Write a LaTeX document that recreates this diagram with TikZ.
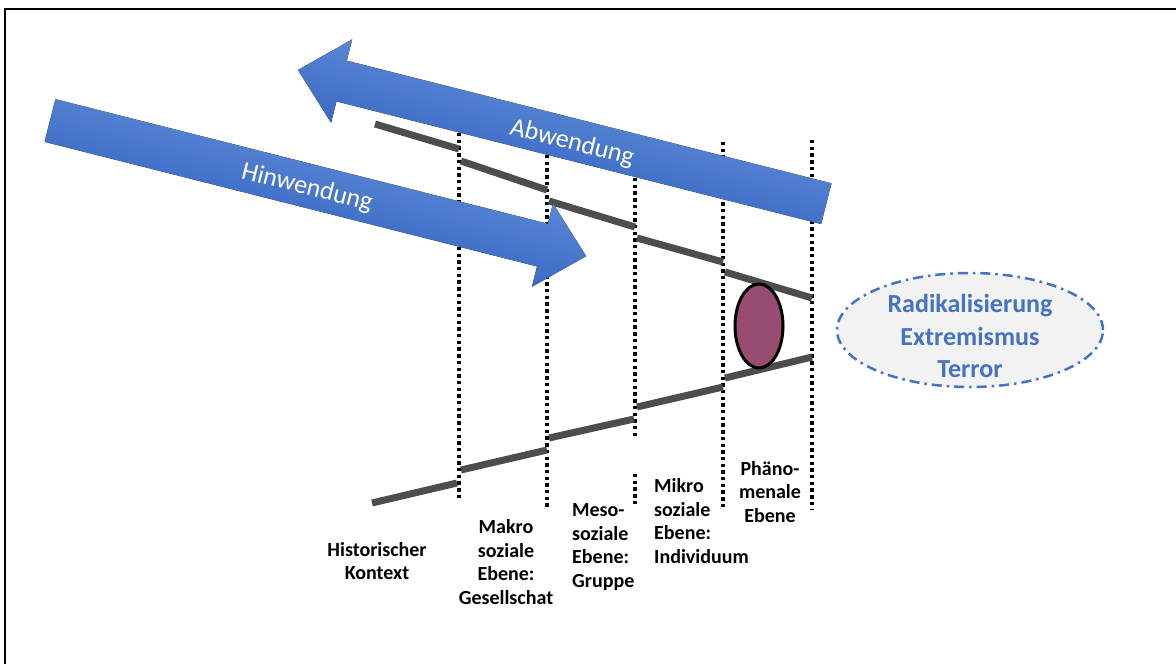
\documentclass[tikz,border=0pt]{standalone}
\usepackage{fontspec}
\setmainfont{Carlito}
\usetikzlibrary{shapes.geometric}
\definecolor{arrowtop}{RGB}{90,134,212}
\definecolor{arrowbot}{RGB}{58,106,196}
\definecolor{textblue}{RGB}{68,114,196}
\definecolor{linegray}{RGB}{77,77,77}
\definecolor{plum}{RGB}{152,76,112}
\definecolor{ellgray}{RGB}{242,242,242}
\tikzset{
  frame/.style={line width=2pt, black},
  dotline/.style={line width=3.2pt, black, dash pattern=on 3.4pt off 3.3pt},
  grayline/.style={line width=7pt, linegray},
  bigarrow/.style={top color=arrowtop, bottom color=arrowbot, draw=none},
  arrowtext/.style={white, font=\fontsize{26}{30}\selectfont, inner sep=0pt},
  levellabel/.style={font=\bfseries\fontsize{20}{23.5}\selectfont, inner sep=0pt},
  outcome/.style={font=\bfseries\fontsize{26}{32.5}\selectfont, textblue, inner sep=0pt, align=center}
}
\begin{document}
\begin{tikzpicture}[x=1pt,y=-1pt]
\useasboundingbox (0,0) rectangle (1176,664);
% frame
\coordinate (f1) at (5,664);
\coordinate (f2) at (5,9);
\coordinate (f3) at (1176,9);
\draw[frame] (f1) -- (f2) -- (f3);

% dotted level borders
\coordinate (d1t) at (459,133); \coordinate (d1b) at (459,500);
\coordinate (d2t) at (547,155); \coordinate (d2b) at (547,508);
\coordinate (d3t) at (635,178); \coordinate (d3m) at (635,437);
\coordinate (d3n) at (635,474); \coordinate (d3b) at (635,505);
\coordinate (d4t) at (723,142); \coordinate (d4b) at (723,510);
\coordinate (d5t) at (812,140); \coordinate (d5b) at (812,510);
\draw[dotline] (d1t) -- (d1b);
\draw[dotline] (d2t) -- (d2b);
\draw[dotline] (d3t) -- (d3m);
\draw[dotline] (d3n) -- (d3b);
\draw[dotline] (d4t) -- (d4b);
\draw[dotline] (d5t) -- (d5b);

% gray funnel lines (upper)
\coordinate (u1a) at (375,124); \coordinate (u1b) at (459,149);
\coordinate (u2a) at (461,161); \coordinate (u2b) at (547,190);
\coordinate (u3a) at (549,201); \coordinate (u3b) at (635,227);
\coordinate (u4a) at (637,238); \coordinate (u4b) at (723,262);
\coordinate (u5a) at (725,272); \coordinate (u5b) at (812,298);
\draw[grayline] (u1a) -- (u1b);
\draw[grayline] (u2a) -- (u2b);
\draw[grayline] (u3a) -- (u3b);
\draw[grayline] (u4a) -- (u4b);
\draw[grayline] (u5a) -- (u5b);
% gray funnel lines (lower)
\coordinate (l1a) at (372,503); \coordinate (l1b) at (457,483);
\coordinate (l2a) at (461,470); \coordinate (l2b) at (547,450);
\coordinate (l3a) at (549,438); \coordinate (l3b) at (634,419);
\coordinate (l4a) at (637,407); \coordinate (l4b) at (723,387);
\coordinate (l5a) at (725,378); \coordinate (l5b) at (812,357);
\draw[grayline] (l1a) -- (l1b);
\draw[grayline] (l2a) -- (l2b);
\draw[grayline] (l3a) -- (l3b);
\draw[grayline] (l4a) -- (l4b);
\draw[grayline] (l5a) -- (l5b);

% Hinwendung arrow (local frame: origin at tail middle, x toward tip)
\begin{scope}[transform canvas={shift={(50,120.5)}, rotate=-14.2}]
\fill[bigarrow] (0,-22) -- (508,-22) -- (508,-43) -- (553,0) -- (508,43) -- (508,22) -- (0,22) -- cycle;
\end{scope}
\node[arrowtext, rotate=-14.2] (hin) at (307,188) {Hinwendung};

% Abwendung arrow (local frame: origin at tip, x toward tail)
\begin{scope}[transform canvas={shift={(298,70)}, rotate=-14.2}]
\fill[bigarrow] (0,0) -- (45,-43) -- (45,-21) -- (545,-21) -- (545,21) -- (45,21) -- (45,43) -- cycle;
\end{scope}
\node[arrowtext, rotate=-14.2] (ab) at (572,143) {Abwendung};

% purple ellipse
\node[ellipse, draw=black, line width=3pt, fill=plum, minimum width=48pt, minimum height=84pt, inner sep=0pt] (pe) at (759,326) {};

% outcome ellipse
\node[ellipse, draw=textblue, fill=ellgray, line width=2.5pt, dash pattern=on 10pt off 5pt on 2.5pt off 5pt, minimum width=266pt, minimum height=114pt, inner sep=0pt] (oe) at (970,330) {};
\node[outcome] (ot) at (970,336) {Radikalisierung\\Extremismus\\Terror};

% level labels
\node[levellabel, align=center] (hist) at (377,561) {Historischer\\Kontext};
\node[levellabel, align=center] (makro) at (506,562) {Makro\\soziale\\Ebene:\\Gesellschat};
\node[levellabel, align=left, anchor=west] (meso) at (572,547) {Meso-\\soziale\\Ebene:\\Gruppe};
\node[levellabel, align=left, anchor=west] (mikro) at (654,521) {Mikro\\soziale\\Ebene:\\Individuum};
\node[levellabel, align=center] (phaeno) at (770,492) {Phäno-\\menale\\Ebene};
\end{tikzpicture}
\end{document}
